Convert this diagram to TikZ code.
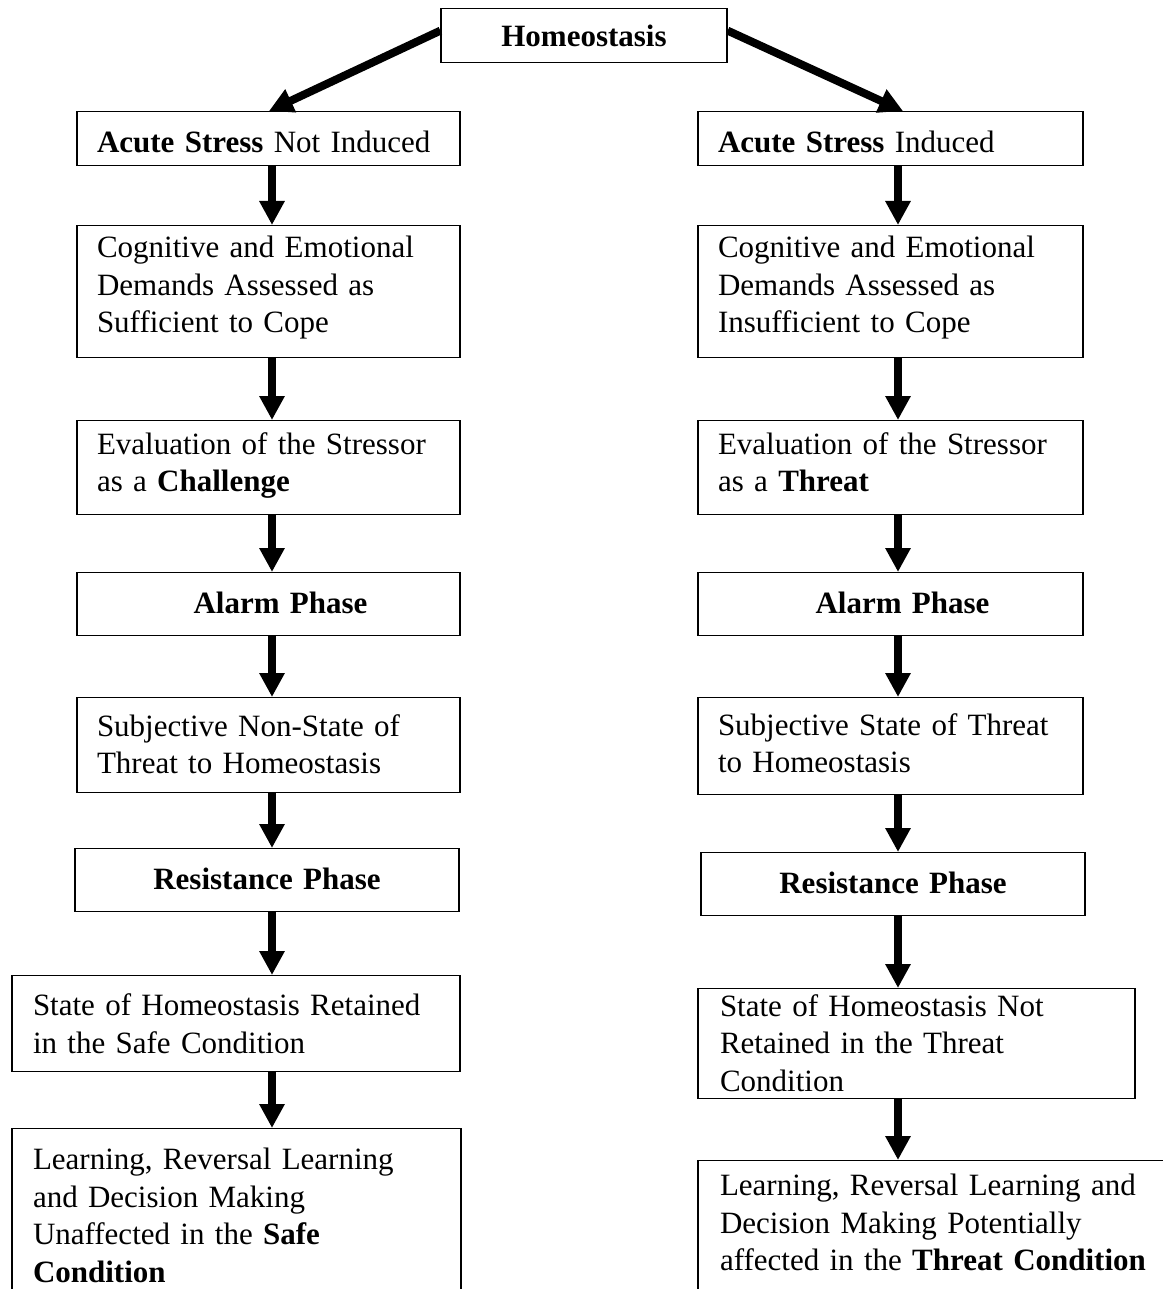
\documentclass[tikz,border=0pt]{standalone}
\usepackage{fontspec}
\setmainfont{Liberation Serif}
\usetikzlibrary{arrows.meta}
\tikzset{
  box/.style={draw=black, line width=1.3pt, inner ysep=0pt, inner xsep=20pt,
    font=\fontsize{31}{37.5}\selectfont, align=left},
  % #1 = distance from box top to first baseline, #2 = box height
  lay/.style 2 args={text height=#1pt, text depth={#2pt-#1pt}},
  arr/.style={line width=8pt, -{Triangle[width=24pt,length=24pt]}},
}
\begin{document}
\begin{tikzpicture}[x=1pt,y=-1pt]
\useasboundingbox (0,0) rectangle (1162,1289);
% top
\node[box, align=center, minimum width=286pt, lay={37.5}{54}, inner xsep=0pt, anchor=north] (home) at (584,8) {\textbf{Homeostasis}};
% left column
\node[box, anchor=north, minimum width=383pt, text width=343pt, lay={41}{54}] (L1) at (268.5,111) {\mbox{\textbf{Acute Stress} Not Induced}};
\node[box, anchor=north, minimum width=383pt, text width=343pt, lay={32}{132}] (L2) at (268.5,225) {Cognitive and Emotional\\Demands Assessed as\\Sufficient to Cope};
\node[box, anchor=north, minimum width=383pt, text width=343pt, lay={33.5}{94}] (L3) at (268.5,420) {Evaluation of the Stressor\\as a \textbf{Challenge}};
\node[box, anchor=north, align=center, minimum width=383pt, text width=343pt, lay={41}{63}] (L4) at (268.5,572) {\hspace*{24pt}\textbf{Alarm Phase}};
\node[box, anchor=north, minimum width=383pt, text width=343pt, lay={38.5}{95}] (L5) at (268.5,697) {Subjective Non-State of\\Threat to Homeostasis};
\node[box, anchor=north, align=center, minimum width=384pt, text width=344pt, lay={41}{63}] (L6) at (267,848) {\textbf{Resistance Phase}};
\node[box, anchor=north, minimum width=448pt, inner xsep=21pt, text width=406pt, lay={40}{96}] (L7) at (236,975) {State of Homeostasis Retained\\in the Safe Condition};
\node[box, anchor=north, minimum width=449pt, inner xsep=21pt, text width=407pt, lay={41}{260}] (L8) at (236.5,1128) {Learning, Reversal Learning\\and Decision Making\\Unaffected in the \textbf{Safe}\\\textbf{Condition}};
% right column
\node[box, anchor=north, minimum width=385pt, text width=345pt, lay={41}{54}] (R1) at (890.5,111) {\mbox{\textbf{Acute Stress} Induced}};
\node[box, anchor=north, minimum width=385pt, text width=345pt, lay={32}{132}] (R2) at (890.5,225) {Cognitive and Emotional\\Demands Assessed as\\Insufficient to Cope};
\node[box, anchor=north, minimum width=385pt, text width=345pt, lay={33.5}{94}] (R3) at (890.5,420) {Evaluation of the Stressor\\as a \textbf{Threat}};
\node[box, anchor=north, align=center, minimum width=385pt, text width=345pt, lay={41}{63}] (R4) at (890.5,572) {\hspace*{24pt}\textbf{Alarm Phase}};
\node[box, anchor=north, minimum width=385pt, text width=345pt, lay={37.5}{97}] (R5) at (890.5,697) {Subjective State of Threat\\to Homeostasis};
\node[box, anchor=north, align=center, minimum width=384pt, text width=344pt, lay={41}{63}] (R6) at (893,852) {\textbf{Resistance Phase}};
\node[box, anchor=north, minimum width=437pt, inner xsep=22pt, text width=393pt, lay={27.5}{110}] (R7) at (916.5,988) {State of Homeostasis Not\\Retained in the Threat\\Condition};
\node[box, anchor=north, minimum width=484pt, inner xsep=22pt, text width=440pt, lay={35}{260}] (R8) at (940,1160) {Learning, Reversal Learning and\\Decision Making Potentially\\affected in the \textbf{Threat Condition}};
% column coordinates for arrows
\coordinate (lc) at (272,0);
\coordinate (rc) at (898,0);
\coordinate (ltip) at (269,111);
\coordinate (rtip) at (903,111);
% diagonal arrows
\draw[arr] ([yshift=5pt]home.west) -- (ltip);
\draw[arr] ([yshift=5pt]home.east) -- (rtip);
% vertical arrows left
\foreach \a/\b in {L1/L2,L2/L3,L3/L4,L4/L5,L5/L6,L6/L7,L7/L8}
  \draw[arr] (\a.south -| lc) -- (\b.north -| lc);
% vertical arrows right
\foreach \a/\b in {R1/R2,R2/R3,R3/R4,R4/R5,R5/R6,R6/R7,R7/R8}
  \draw[arr] (\a.south -| rc) -- (\b.north -| rc);
\end{tikzpicture}
\end{document}
